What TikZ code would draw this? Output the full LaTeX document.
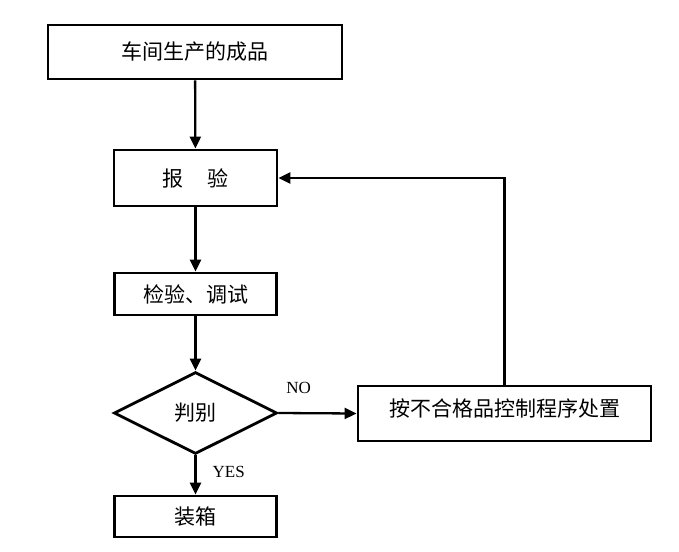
\documentclass[tikz,border=0pt]{standalone}
\usepackage{fontspec}
\setmainfont{Liberation Serif}
\newfontfamily\cjk{Noto Sans CJK SC}
\usetikzlibrary{shapes.geometric,arrows.meta}
\tikzset{
  box/.style={draw=black, line width=2.8pt, rectangle, inner sep=0pt, font=\cjk\fontsize{21}{24}\selectfont},
  dia/.style={draw=black, line width=2.8pt, diamond, aspect=2, inner sep=0pt, font=\cjk\fontsize{21}{24}\selectfont},
  arr/.style={line width=2.3pt, -{Triangle[length=12pt,width=11pt]}},
  lbl/.style={font=\fontsize{17}{19}\selectfont, inner sep=0pt}
}
\begin{document}
\begin{tikzpicture}[x=1pt,y=-1pt]
\useasboundingbox[fill=white] (0,0) rectangle (679,551);
\node[box, minimum width=294pt, minimum height=54pt] (b1) at (195,52) {车间生产的成品};
\node[box, minimum width=163pt, minimum height=56pt] (b2) at (195.5,178) {报\hspace{24pt}验};
\node[box, minimum width=162pt, minimum height=42pt] (b3) at (195.5,294) {检验、调试};
\node[dia, minimum width=163pt, minimum height=82pt] (dm) at (195.5,413) {判别};
\node[box, minimum width=293pt, minimum height=55pt] (rb) at (504.5,413.5) {};
\node[font=\cjk\fontsize{21}{24}\selectfont, inner sep=0pt] (rbt) at (504.5,408) {按不合格品控制程序处置};
\node[box, minimum width=162pt, minimum height=41pt] (b5) at (195.5,516.5) {装箱};
\draw[arr] (b1) -- (b2);
\draw[arr] (b2) -- (b3);
\draw[arr] (b3) -- (dm);
\draw[arr] (dm) -- node[lbl, pos=0.43, anchor=west, xshift=16pt] {YES} (b5);
\draw[arr] (dm.east) -- node[lbl, pos=0.26, anchor=south, yshift=18pt] {NO} (rb.west);
\draw[arr] (rb.north) -- (rb.north |- b2.east) -- (b2.east);
\end{tikzpicture}
\end{document}
